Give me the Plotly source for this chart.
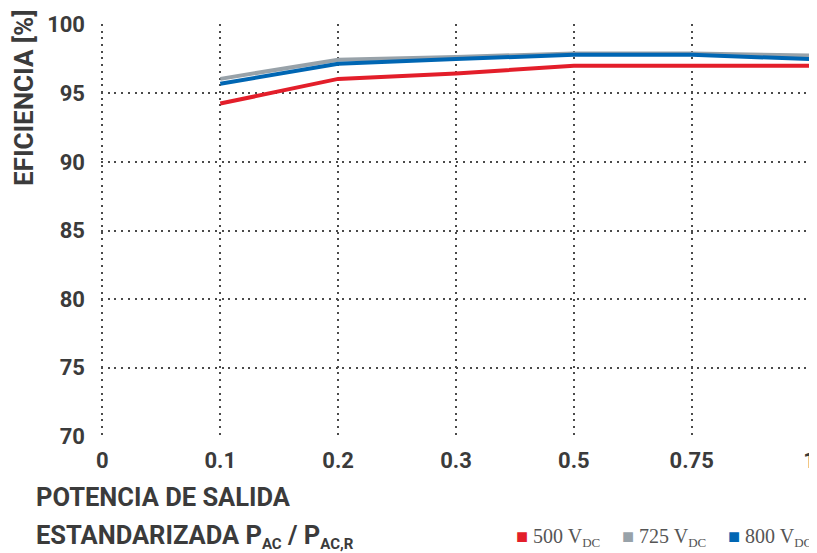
import plotly.graph_objects as go

categories = ["0", "0.1", "0.2", "0.3", "0.5", "0.75", "1"]
x_points = ["0.1", "0.2", "0.3", "0.5", "0.75", "1"]
eff_500 = [94.25, 96.05, 96.45, 97.0, 97.0, 97.0]
eff_725 = [96.05, 97.45, 97.65, 97.9, 97.9, 97.75]
eff_800 = [95.7, 97.15, 97.5, 97.8, 97.8, 97.5]
y_ticks = [70, 75, 80, 85, 90, 95, 100]

series = [
    ("500 V<sub>DC</sub>", eff_500, "#e31e2a"),
    ("725 V<sub>DC</sub>", eff_725, "#98a2a9"),
    ("800 V<sub>DC</sub>", eff_800, "#0066b3"),
]

TXT = "#3b3b3b"
FONT = "Roboto"

# page offset of 8px (body margin) -> plot area on page: x 101..811, y 24..437
OFF = 8
FIG_W, FIG_H = 817 - OFF, 553 - OFF
PL, PR, PT, PB = 101, 811, 24, 437
PW, PH = PR - PL, PB - PT

fig = go.Figure()
for name, vals, col in series:
    fig.add_trace(go.Scatter(x=x_points, y=vals, mode="lines", name=name,
                             line=dict(color=col, width=4), showlegend=False,
                             hoverinfo="skip"))

grid = dict(showgrid=True, gridcolor="#4a4a4a", gridwidth=2, griddash="2px,4.7px",
            zeroline=False, showline=False, ticks="", automargin=False)

fig.update_xaxes(type="category", categoryorder="array", categoryarray=categories,
                 range=[-0.012, 6.012], ticklabeloverflow="allow",
                 tickfont=dict(family=FONT, size=22, color=TXT, weight="bold"),
                 ticklabelstandoff=8, **grid)
fig.update_yaxes(range=[69.95, 100.05], tickvals=y_ticks, ticklabeloverflow="allow",
                 tickfont=dict(family=FONT, size=22, color=TXT, weight="bold"),
                 ticklabelstandoff=15, **grid)


def px(x):
    return (x - PL) / PW


def py(y):
    return (PB - y) / PH


SUB = "<sub><span style='font-size:15px'>{}</span></sub>"

fig.add_annotation(text="EFICIENCIA [%]", textangle=-90, xref="paper", yref="paper",
                   x=px(24), y=py(98), xanchor="center", yanchor="middle", showarrow=False,
                   font=dict(family=FONT, size=26, color=TXT, weight="bold"))
fig.add_annotation(text="POTENCIA DE SALIDA", xref="paper", yref="paper",
                   x=px(34), y=py(497), xanchor="left", yanchor="middle", showarrow=False,
                   font=dict(family=FONT, size=25.5, color=TXT, weight="bold"))
fig.add_annotation(text="ESTANDARIZADA P" + SUB.format("AC") + " / P" + SUB.format("AC,R"),
                   xref="paper", yref="paper",
                   x=px(34), y=py(536), xanchor="left", yanchor="middle", showarrow=False,
                   font=dict(family=FONT, size=25.5, color=TXT, weight="bold"))

# legend entries
leg_x = [514, 620, 726]
LSUB = "<sub><span style='font-size:13px'>DC</span></sub>"
for (name, vals, col), lx in zip(series, leg_x):
    label = name.replace("<sub>DC</sub>", LSUB)
    fig.add_annotation(text=f"<span style='color:{col}'>■</span> {label}",
                       xref="paper", yref="paper", x=px(lx), y=py(537),
                       xanchor="left", yanchor="middle", showarrow=False,
                       font=dict(family="Liberation Serif", size=20, color="#555555"))

fig.update_layout(
    width=FIG_W, height=FIG_H,
    margin=dict(l=PL - OFF, r=FIG_W - (PR - OFF), t=PT - OFF, b=FIG_H - (PB - OFF),
                autoexpand=False),
    paper_bgcolor="white", plot_bgcolor="white",
    showlegend=False,
)

fig.write_html("out.html")
